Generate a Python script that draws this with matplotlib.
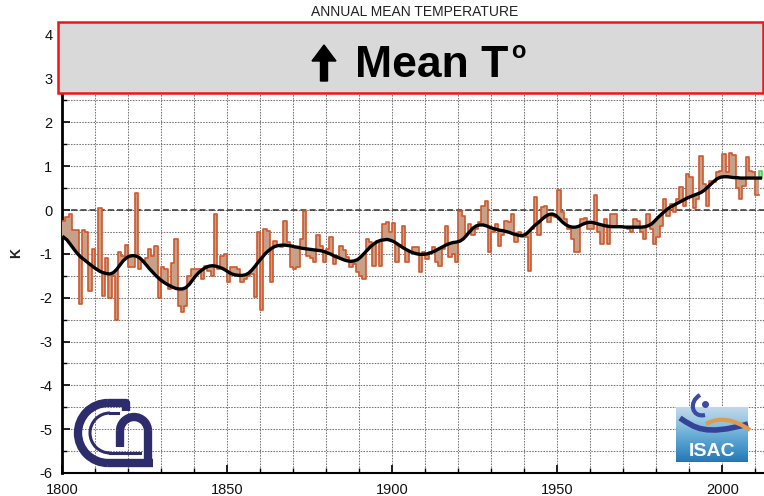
import numpy as np
import matplotlib.pyplot as plt
from matplotlib.patches import Rectangle, Arc, FancyArrow, PathPatch
from matplotlib.path import Path
from matplotlib.ticker import MultipleLocator

plt.rcParams['font.family'] = ['Liberation Sans', 'DejaVu Sans']
plt.rcParams['axes.unicode_minus'] = False

# anomalie annue (K), una per anno dal 1800
first_year = 1800
anomaly = [
    -0.25, -0.15, -0.10, -0.45, -0.45, -2.15, -0.45, -0.50, -1.85, -0.90,
    -1.35,  0.05, -1.95, -1.10, -2.00, -1.50, -2.50, -0.95, -1.05, -0.80,
    -1.30, -1.30,  0.38, -1.34, -1.19, -1.10, -0.89, -1.04, -0.81, -2.00,
    -1.30, -1.34, -1.80, -1.20, -0.66, -2.20, -2.33, -2.20, -1.50, -1.34,
    -1.34, -1.34, -1.57, -1.27, -1.40, -1.50, -0.10, -1.34, -1.04, -1.00,
    -1.64, -1.30, -1.30, -1.35, -1.64, -1.57, -1.50, -1.45, -1.98, -0.50,
    -2.29, -0.43, -0.47, -1.64, -0.70, -0.81, -0.85, -0.24, -0.73, -1.30,
    -1.34, -1.30, -0.66, -0.02, -1.04, -1.10, -1.19, -0.58, -0.81, -1.19,
    -0.89, -0.62, -1.23, -1.04, -0.81, -0.92, -1.08, -1.30, -1.23, -1.42,
    -1.50, -1.57, -0.66, -0.74, -1.27, -0.70, -1.27, -0.32, -0.28, -0.50,
    -0.30, -1.19, -0.80, -0.36, -1.19, -0.95, -0.85, -0.85, -1.42, -0.96,
    -1.11, -0.96, -0.85, -1.19, -1.27, -0.90, -0.37, -1.08, -1.00, -1.19,
    -0.02, -0.13, -0.55, -0.32, -0.58, -0.43, -0.28,  0.10,  0.21, -0.96,
    -0.50, -0.32, -0.81, -0.58, -0.24, -0.28, -0.09, -0.73, -0.50, -0.62,
    -0.62, -1.38, -0.43,  0.29, -0.58,  0.06,  0.10, -0.28, -0.13, -0.15,
     0.45, -0.05, -0.20, -0.43, -0.66, -0.96, -0.96, -0.20, -0.19, -0.43,
    -0.43,  0.34, -0.51, -0.77, -0.20, -0.77, -0.09, -0.08, -0.36, -0.39,
    -0.39, -0.43, -0.49, -0.20, -0.24, -0.51, -0.66, -0.09, -0.43, -0.77,
    -0.62, -0.36,  0.25, -0.13,  0.14, -0.05,  0.25,  0.52,  0.10,  0.82,
     0.75,  0.05,  0.25,  1.23,  0.60,  0.10,  0.67,  0.63,  0.86,  0.90,
     1.27,  0.86,  1.30,  1.25,  0.50,  0.25,  0.55,  1.20,  0.89,  0.86,
     0.35,  0.90,
]

# curva filtrata (K), stessi anni
smooth = [
    -0.62, -0.68, -0.78, -0.88, -0.98, -1.06, -1.12, -1.18, -1.24, -1.30,
    -1.35, -1.40, -1.43, -1.45, -1.46, -1.43, -1.36, -1.26, -1.16, -1.09,
    -1.05, -1.04, -1.05, -1.09, -1.16, -1.25, -1.34, -1.42, -1.50, -1.57,
    -1.63, -1.68, -1.72, -1.76, -1.79, -1.80, -1.80, -1.77, -1.70, -1.60,
    -1.50, -1.42, -1.36, -1.31, -1.28, -1.27, -1.28, -1.30, -1.33, -1.37,
    -1.42, -1.46, -1.48, -1.49, -1.49, -1.48, -1.44, -1.37, -1.28, -1.18,
    -1.09, -1.00, -0.93, -0.87, -0.83, -0.81, -0.80, -0.80, -0.81, -0.82,
    -0.84, -0.85, -0.87, -0.88, -0.89, -0.90, -0.91, -0.92, -0.93, -0.95,
    -0.98, -1.01, -1.05, -1.08, -1.11, -1.14, -1.16, -1.17, -1.16, -1.13,
    -1.07, -0.99, -0.91, -0.83, -0.77, -0.72, -0.69, -0.68, -0.67, -0.69,
    -0.72, -0.77, -0.82, -0.87, -0.91, -0.95, -0.98, -1.00, -1.01, -1.01,
    -1.00, -0.98, -0.95, -0.91, -0.87, -0.83, -0.79, -0.76, -0.74, -0.73,
    -0.71, -0.66, -0.58, -0.49, -0.41, -0.36, -0.34, -0.34, -0.36, -0.39,
    -0.42, -0.44, -0.46, -0.47, -0.49, -0.51, -0.54, -0.56, -0.58, -0.58,
    -0.55, -0.48, -0.40, -0.33, -0.27, -0.20, -0.14, -0.10, -0.09, -0.12,
    -0.19, -0.27, -0.33, -0.37, -0.39, -0.39, -0.37, -0.33, -0.30, -0.28,
    -0.28, -0.30, -0.32, -0.34, -0.36, -0.37, -0.38, -0.38, -0.38, -0.38,
    -0.39, -0.39, -0.39, -0.39, -0.39, -0.39, -0.38, -0.36, -0.32, -0.25,
    -0.17, -0.10, -0.03,  0.03,  0.08,  0.12,  0.16,  0.20,  0.24,  0.28,
     0.31,  0.34,  0.37,  0.40,  0.45,  0.52,  0.59,  0.66,  0.72,  0.75,
     0.76,  0.76,  0.75,  0.74,  0.74,  0.73,  0.73,  0.73,  0.73,  0.73,
     0.73,  0.73,
]

x_ticks = [1800, 1850, 1900, 1950, 2000]
y_ticks = [-6, -5, -4, -3, -2, -1, 0, 1, 2, 3, 4]

anni = np.arange(first_year, first_year + len(anomaly))
val = np.array(anomaly)
base = np.array(smooth)

fig = plt.figure(figsize=(7.64, 4.96), dpi=100)
ax = fig.add_axes([62 / 764, 23 / 496, 702 / 764, 447 / 496])

# barre piene dal valore filtrato al valore annuo, l'ultimo anno in verde
fill_col = ['#c8a088'] * len(anni)
fill_col[-1] = '#a6e2a0'
ax.bar(anni, val - base, bottom=base, width=1.0, align='edge',
       color=fill_col, linewidth=0, zorder=3)
# contorno a gradini dei valori annui
ax.step(np.append(anni[:-1], anni[-1]), np.append(val[:-1], val[-2]),
        where='post', color='#d2562b', lw=1.2, zorder=4)
ax.plot([anni[-1], anni[-1], anni[-1] + 1, anni[-1] + 1],
        [base[-1], val[-1], val[-1], base[-1]], color='#5cc85c', lw=1.2,
        zorder=4)
ax.plot(anni + 0.5, base, color='black', lw=2.4, zorder=5)

ax.set_xlim(1800, 2012.6)
ax.set_ylim(-6, 4.2)
ax.set_xticks(x_ticks)
ax.set_yticks(y_ticks)
ax.set_yticklabels([str(t) for t in y_ticks])
ax.xaxis.set_minor_locator(MultipleLocator(10))
ax.yaxis.set_minor_locator(MultipleLocator(0.5))
ax.tick_params(which='major', direction='in', length=6, width=1.3,
               labelsize=10.5, colors='#111')
ax.tick_params(which='minor', direction='in', length=3.5, width=1.0)
ax.tick_params(axis='y', pad=7)
ax.tick_params(axis='x', pad=7)
ax.grid(which='both', color='#777777', ls=(0, (1.5, 1.2)), lw=0.75, zorder=1)
ax.axhline(0, color='#333333', ls=(0, (4, 2)), lw=1.1, zorder=2)
for s in ['top', 'right']:
    ax.spines[s].set_visible(False)
ax.spines['left'].set_linewidth(2.0)
ax.spines['bottom'].set_linewidth(1.5)

# livello sovrapposto in pixel per riquadro, titolo e loghi
ov = fig.add_axes([0, 0, 1, 1], zorder=10)
ov.set_xlim(0, 764)
ov.set_ylim(496, 0)
ov.axis('off')
ov.patch.set_alpha(0)

ov.text(415, 12, 'ANNUAL MEAN TEMPERATURE', ha='center', va='center',
        fontsize=10, color='#222')
ov.text(16, 253, 'K', rotation=90, ha='center', va='center', fontsize=10,
        fontweight='bold', color='#222')

ov.add_patch(Rectangle((58, 22), 705, 71, facecolor='#d9d9d9',
                       edgecolor='#ee1515', lw=1.8))
ov.add_patch(FancyArrow(324, 81, 0, -36, width=7, head_width=24,
                        head_length=16, length_includes_head=True,
                        color='black'))
ov.text(355, 77, 'Mean T', fontsize=32, fontweight='bold', ha='left',
        va='baseline', color='black')
ov.text(511, 58, 'o', fontsize=17, fontweight='bold', ha='left',
        va='baseline', color='black')

# logo CNR
navy = '#2d2c6c'
ov.add_patch(Arc((108, 433), 60, 60, theta1=90, theta2=270, lw=6, color=navy))
ov.plot([108, 126, 126], [403, 403, 411], color=navy, lw=6,
        solid_capstyle='butt')
ov.plot([108, 153], [463, 463], color=navy, lw=6, solid_capstyle='butt')
ov.add_patch(Arc((110, 433), 40, 40, theta1=90, theta2=270, lw=2.2,
                 color=navy))
ov.plot([110, 118], [413, 413], color=navy, lw=2.2)
ov.plot([110, 140], [453, 453], color=navy, lw=2.2)
ov.add_patch(Arc((134, 431), 28, 28, theta1=180, theta2=360, lw=6,
                 color=navy))
ov.plot([148, 148], [431, 463], color=navy, lw=6, solid_capstyle='butt')
ov.plot([120, 120], [431, 447], color=navy, lw=6, solid_capstyle='butt')

# logo ISAC
grad = np.linspace(0, 1, 50)[:, None] * np.ones((1, 10))
ov.imshow(grad, extent=(676, 748, 462, 407), cmap='Blues', vmin=-0.6,
          vmax=1.6, aspect='auto', zorder=11)
ov.text(712, 452, 'ISAC', ha='center', va='center', fontsize=14,
        fontweight='bold', color='white', zorder=12)
wave = Path([(680, 418), (695, 428), (705, 436), (748, 424)],
            [Path.MOVETO, Path.CURVE4, Path.CURVE4, Path.CURVE4])
ov.add_patch(PathPatch(wave, facecolor='none', edgecolor='#34429a', lw=4,
                       zorder=12))
wave2 = Path([(706, 424), (720, 416), (735, 420), (750, 430)],
             [Path.MOVETO, Path.CURVE4, Path.CURVE4, Path.CURVE4])
ov.add_patch(PathPatch(wave2, facecolor='none', edgecolor='#e09a4a', lw=3,
                       zorder=12))
swirl = Path([(700, 395), (688, 402), (692, 418), (705, 415)],
             [Path.MOVETO, Path.CURVE4, Path.CURVE4, Path.CURVE4])
ov.add_patch(PathPatch(swirl, facecolor='none', edgecolor='#3a4aa6', lw=3,
                       zorder=12))
ov.plot([705], [404], 'o', color='#3a4aa6', ms=4, zorder=12)

fig.savefig('out.png', dpi=100)
